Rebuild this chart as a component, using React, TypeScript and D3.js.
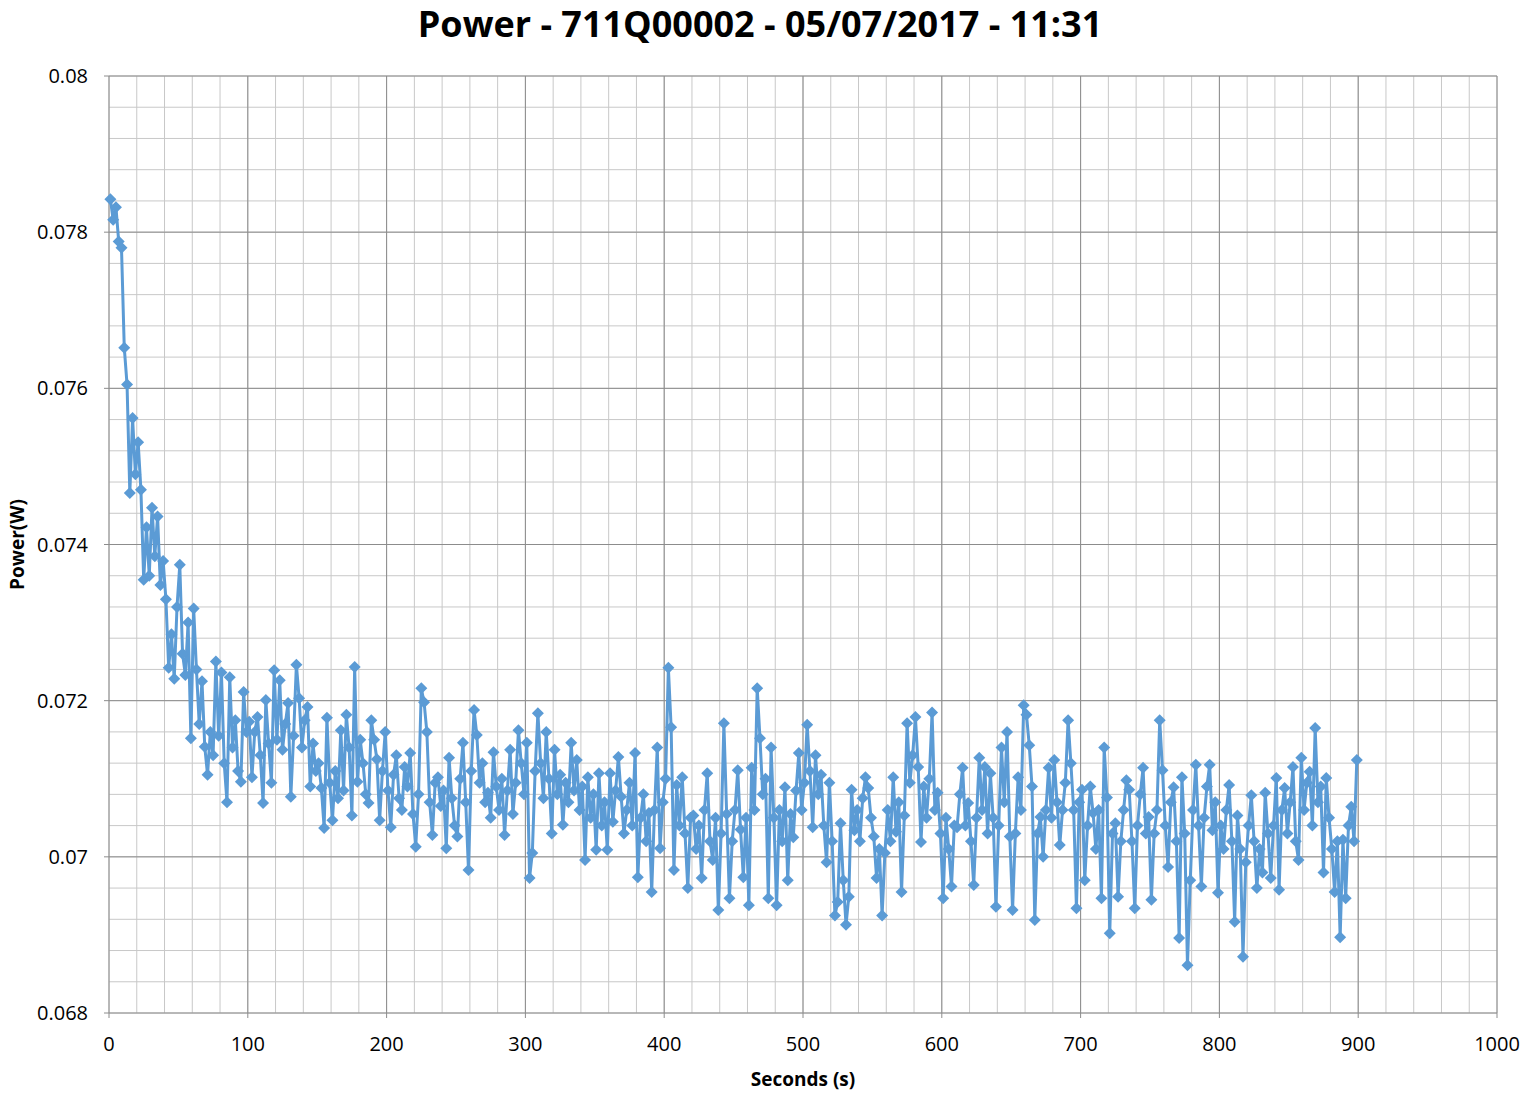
import React from 'react';
import * as d3 from 'd3';

// Power readings in mW, one reading every 2 s starting at t = 1 s
const FIRST_SECOND = 1;
const STEP_SECONDS = 2;
const powerMilliwatts: number[] = [
  78.42, 78.16, 78.32, 77.88, 77.80, 76.52, 76.05, 74.66, 75.62, 74.90,
  75.31, 74.70, 73.55, 74.22, 73.60, 74.47, 73.85, 74.36, 73.48, 73.79,
  73.30, 72.42, 72.85, 72.28, 73.20, 73.74, 72.60, 72.33, 73.00, 71.52,
  73.18, 72.40, 71.70, 72.25, 71.41, 71.05, 71.60, 71.30, 72.50, 71.55,
  72.36, 71.20, 70.70, 72.30, 71.40, 71.75, 71.10, 70.96, 72.11, 71.60,
  71.73, 71.02, 71.60, 71.79, 71.30, 70.69, 72.01, 71.45, 70.95, 72.39,
  71.50, 72.26, 71.37, 71.70, 71.97, 70.77, 71.55, 72.46, 72.03, 71.40,
  71.75, 71.92, 70.90, 71.45, 71.10, 71.20, 70.88, 70.37, 71.78, 70.95,
  70.47, 71.10, 70.75, 71.62, 70.85, 71.82, 71.40, 70.53, 72.43, 70.96,
  71.50, 71.20, 70.80, 70.69, 71.75, 71.50, 71.25, 70.47, 71.10, 71.60,
  70.85, 70.38, 71.05, 71.30, 70.75, 70.60, 71.15, 70.90, 71.33, 70.55,
  70.13, 70.80, 72.16, 71.98, 71.60, 70.70, 70.28, 70.95, 71.02, 70.65,
  70.85, 70.11, 71.27, 70.75, 70.40, 70.26, 71.00, 71.46, 70.70, 69.83,
  71.10, 71.88, 71.56, 70.95, 71.20, 70.70, 70.82, 70.50, 71.34, 70.90,
  70.60, 71.00, 70.28, 70.85, 71.37, 70.55, 70.95, 71.62, 71.20, 70.80,
  71.46, 69.73, 70.05, 71.10, 71.84, 71.20, 70.75, 71.60, 71.00, 70.30,
  71.37, 70.80, 71.05, 70.41, 70.95, 70.70, 71.46, 70.85, 71.24, 70.60,
  70.90, 69.96, 71.02, 70.50, 70.80, 70.09, 71.07, 70.40, 70.70, 70.09,
  71.07, 70.45, 70.85, 71.28, 70.77, 70.30, 70.60, 70.95, 70.40, 71.33,
  69.74, 70.50, 70.80, 70.20, 70.56, 69.55, 70.60, 71.40, 70.11, 70.70,
  71.00, 72.42, 71.66, 69.83, 70.92, 70.40, 71.02, 70.30, 69.60, 70.50,
  70.53, 70.10, 70.40, 69.73, 70.60, 71.07, 70.20, 69.96, 70.50, 69.32,
  70.30, 71.71, 70.55, 69.47, 70.20, 70.60, 71.11, 70.35, 69.74, 70.50,
  69.38, 71.14, 70.60, 72.16, 71.52, 70.80, 71.00, 69.47, 71.40, 70.50,
  69.38, 70.60, 70.20, 70.89, 69.70, 70.55, 70.25, 70.85, 71.33, 70.60,
  70.95, 71.69, 71.10, 70.38, 71.30, 70.80, 71.05, 70.40, 69.93, 70.95,
  70.20, 69.25, 69.42, 70.43, 69.70, 69.13, 69.49, 70.86, 70.34, 70.60,
  70.20, 70.75, 71.02, 70.88, 70.50, 70.26, 69.73, 70.10, 69.25, 70.05,
  70.60, 70.20, 71.02, 70.32, 70.70, 69.55, 70.53, 71.71, 70.95, 71.30,
  71.79, 71.15, 70.19, 70.90, 70.50, 71.00, 71.85, 70.60, 70.82, 70.30,
  69.47, 70.50, 70.10, 69.62, 70.40, 70.38, 70.80, 71.14, 70.40, 70.69,
  70.20, 69.64, 70.50, 71.27, 70.60, 71.15, 70.30, 71.07, 70.50, 69.36,
  70.40, 71.40, 70.70, 71.60, 70.26, 69.32, 70.30, 71.02, 70.60, 71.94,
  71.82, 71.43, 70.90, 69.19, 70.30, 70.51, 70.00, 70.60, 71.14, 70.50,
  71.24, 70.70, 70.15, 70.60, 70.95, 71.75, 71.20, 70.60, 69.34, 70.70,
  70.86, 69.70, 70.40, 70.90, 70.56, 70.10, 70.60, 69.47, 71.40, 70.76,
  69.02, 70.30, 70.43, 69.49, 70.20, 70.60, 70.98, 70.86, 70.20, 69.34,
  70.40, 70.80, 71.14, 70.30, 70.51, 69.45, 70.30, 70.60, 71.75, 71.11,
  70.40, 69.87, 70.70, 70.89, 70.20, 68.96, 71.02, 70.30, 68.61, 69.70,
  70.60, 71.18, 70.40, 69.62, 70.50, 70.90, 71.18, 70.34, 70.70, 69.54,
  70.40, 70.10, 70.60, 70.92, 70.20, 69.17, 70.53, 70.10, 68.72, 69.93,
  70.40, 70.79, 70.20, 69.60, 70.10, 69.80, 70.82, 70.30, 69.73, 70.40,
  71.01, 69.58, 70.60, 70.88, 70.30, 70.70, 71.15, 70.20, 69.96, 71.27,
  70.60, 70.95, 71.09, 70.40, 71.65, 70.70, 70.90, 69.80, 71.01, 70.50,
  70.10, 69.55, 70.20, 68.97, 70.22, 69.47, 70.40, 70.64, 70.20, 71.24,
];

const xTicks = [0, 100, 200, 300, 400, 500, 600, 700, 800, 900, 1000];
const yTicks = [0.068, 0.07, 0.072, 0.074, 0.076, 0.078, 0.08];

const title = 'Power - 711Q00002 - 05/07/2017 - 11:31';
const xTitle = 'Seconds (s)';
const yTitle = 'Power(W)';

const W = 1524;
const H = 1095;
const margin = { left: 109, right: 27, top: 76, bottom: 82 };
const BLUE = '#5B9BD5';
const FONT = "'Open Sans', 'DejaVu Sans', sans-serif";

const App: React.FC = () => {
  const x = d3.scaleLinear().domain([0, 1000]).range([margin.left, W - margin.right]);
  const y = d3.scaleLinear().domain([0.068, 0.08]).range([H - margin.bottom, margin.top]);

  const points: [number, number][] = powerMilliwatts.map((v, i) => [
    FIRST_SECOND + i * STEP_SECONDS,
    v / 1000,
  ]);

  const line = d3
    .line<[number, number]>()
    .x(d => x(d[0]))
    .y(d => y(d[1]));

  // Excel style diamond: a square turned 45 degrees
  const diamond = d3.symbol(d3.symbolSquare, 72)()!;

  // minor grid: 20 s and 0.0004 W
  const xMinor = d3.range(0, 1001, 20);
  const yMinor = d3.range(0, 31).map(k => 0.068 + k * 0.0004);

  const [x0, x1] = x.range();
  const [y0, y1] = y.range();

  return (
    <svg width={W} height={H} style={{ position: 'absolute', left: 0, top: 0, background: '#fff' }}>
      <g>
        {xMinor.map(v => (
          <line key={'xm' + v} x1={x(v)} x2={x(v)} y1={y1} y2={y0} stroke="#C8C8C8" strokeWidth={1} />
        ))}
        {yMinor.map((v, k) => (
          <line key={'ym' + k} x1={x0} x2={x1} y1={y(v)} y2={y(v)} stroke="#C8C8C8" strokeWidth={1} />
        ))}
        {xTicks.map(v => (
          <line key={'xM' + v} x1={x(v)} x2={x(v)} y1={y1} y2={y0 + 5} stroke="#8C8C8C" strokeWidth={1} />
        ))}
        {yTicks.map(v => (
          <line key={'yM' + v} x1={x0 - 5} x2={x1} y1={y(v)} y2={y(v)} stroke="#8C8C8C" strokeWidth={1} />
        ))}
      </g>

      <path d={line(points) ?? ''} fill="none" stroke={BLUE} strokeWidth={3} strokeLinejoin="round" />
      <g fill={BLUE}>
        {points.map((p, i) => (
          <path key={i} d={diamond} transform={`translate(${x(p[0])},${y(p[1])}) rotate(45)`} />
        ))}
      </g>

      <g fontFamily={FONT} fontSize={20} fill="#000">
        {xTicks.map(v => (
          <text key={'xt' + v} x={x(v)} y={y0 + 38} textAnchor="middle">
            {v}
          </text>
        ))}
        {yTicks.map(v => (
          <text key={'yt' + v} x={x0 - 21} y={y(v)} dy="0.35em" textAnchor="end">
            {d3.format('~g')(v)}
          </text>
        ))}
      </g>

      <text x={760} y={37} textAnchor="middle" fontFamily={FONT} fontWeight="bold" fontSize={36}>
        {title}
      </text>
      <text x={(x0 + x1) / 2} y={1086} textAnchor="middle" fontFamily={FONT} fontWeight="bold" fontSize={19}>
        {xTitle}
      </text>
      <text
        transform={`translate(24,${(y0 + y1) / 2}) rotate(-90)`}
        textAnchor="middle"
        fontFamily={FONT}
        fontWeight="bold"
        fontSize={19}
      >
        {yTitle}
      </text>
    </svg>
  );
};

export default App;
